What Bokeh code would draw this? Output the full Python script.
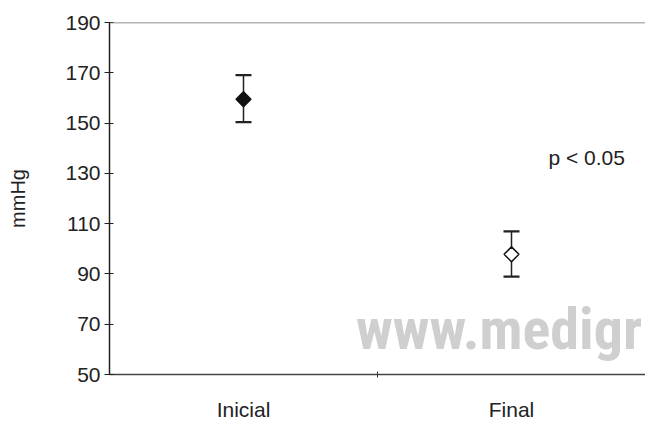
import numpy as np
from bokeh.plotting import figure
from bokeh.models import (ColumnDataSource, Whisker, TeeHead, FixedTicker, Span, Range1d)
from bokeh.core.properties import value
from bokeh.embed import file_html
from bokeh.resources import INLINE

# ---- data ----
categories = ["Inicial", "Final"]
means = [159.5, 97.8]
upper = [169.1, 106.9]
lower = [150.4, 88.9]
fills = ["#111111", "#ffffff"]
y_ticks = [50, 70, 90, 110, 130, 150, 170, 190]
annotation = "p < 0.05"
watermark = "www.medigr"

positions = [i + 0.5 for i in range(len(categories))]
boundaries = [float(i) for i in range(1, len(categories))]

FONT = "Liberation Sans"

p = figure(width=645, height=423, output_backend="svg", toolbar_location=None,
           x_range=Range1d(0, 2.0), y_range=Range1d(50, 190),
           min_border_left=109, min_border_right=0, min_border_top=22, min_border_bottom=46)
p.outline_line_color = None
p.xgrid.visible = False
p.ygrid.visible = False
p.background_fill_color = "white"
p.border_fill_color = "white"

# top border line
p.add_layout(Span(location=190, dimension="width", line_color="#6a6a6a", line_width=1.5))

# watermark
p.text(x=[0.92], y=[67.9], text=[watermark], text_font=value("Roboto Condensed"),
       text_font_style="bold", text_font_size="58px", text_color="#cfcfd0",
       text_baseline="middle", text_align="left")

src = ColumnDataSource(dict(x=positions, mean=means, upper=upper, lower=lower, fill=fills))

w = Whisker(base="x", upper="upper", lower="lower", source=src, dimension="height",
            line_color="#222222", line_width=1.5,
            upper_head=TeeHead(size=16, line_width=2.2, line_color="#222222"),
            lower_head=TeeHead(size=16, line_width=2.2, line_color="#222222"))
w.level = "underlay"
p.add_layout(w)

p.scatter(x="x", y="mean", source=src, marker="square", angle=np.pi / 4, size=10.5,
          fill_color="fill", line_color="#111111", line_width=1.5)

p.text(x=[1.638], y=[136.4], text=[annotation], text_font=value(FONT), text_font_size="21px",
       text_color="#222222", text_baseline="middle", text_align="left")

# x axis
p.xaxis.ticker = FixedTicker(ticks=positions, minor_ticks=boundaries)
p.xaxis.major_label_overrides = {pos: c for pos, c in zip(positions, categories)}
p.xaxis.major_tick_in = 0
p.xaxis.major_tick_out = 0
p.xaxis.minor_tick_in = 3
p.xaxis.minor_tick_out = 3
p.xaxis.minor_tick_line_color = "#333333"
p.xaxis.axis_line_color = "#444444"
p.xaxis.axis_line_width = 1.5
p.xaxis.major_label_standoff = 20
p.xaxis.major_label_text_font = FONT
p.xaxis.major_label_text_font_size = "21px"
p.xaxis.major_label_text_color = "#222222"

# y axis
p.yaxis.ticker = FixedTicker(ticks=y_ticks)
p.yaxis.minor_tick_line_color = None
p.yaxis.major_tick_in = 4
p.yaxis.major_tick_out = 5
p.yaxis.major_tick_line_color = "#222222"
p.yaxis.axis_line_color = "#222222"
p.yaxis.axis_line_width = 1.5
p.yaxis.major_label_standoff = 4
p.yaxis.major_label_text_font = FONT
p.yaxis.major_label_text_font_size = "21px"
p.yaxis.major_label_text_color = "#222222"
p.yaxis.axis_label = "mmHg"
p.yaxis.axis_label_text_font = FONT
p.yaxis.axis_label_text_font_size = "20px"
p.yaxis.axis_label_text_font_style = "normal"
p.yaxis.axis_label_text_color = "#222222"
p.yaxis.axis_label_standoff = 33

open("out.html", "w").write(file_html(p, INLINE))
